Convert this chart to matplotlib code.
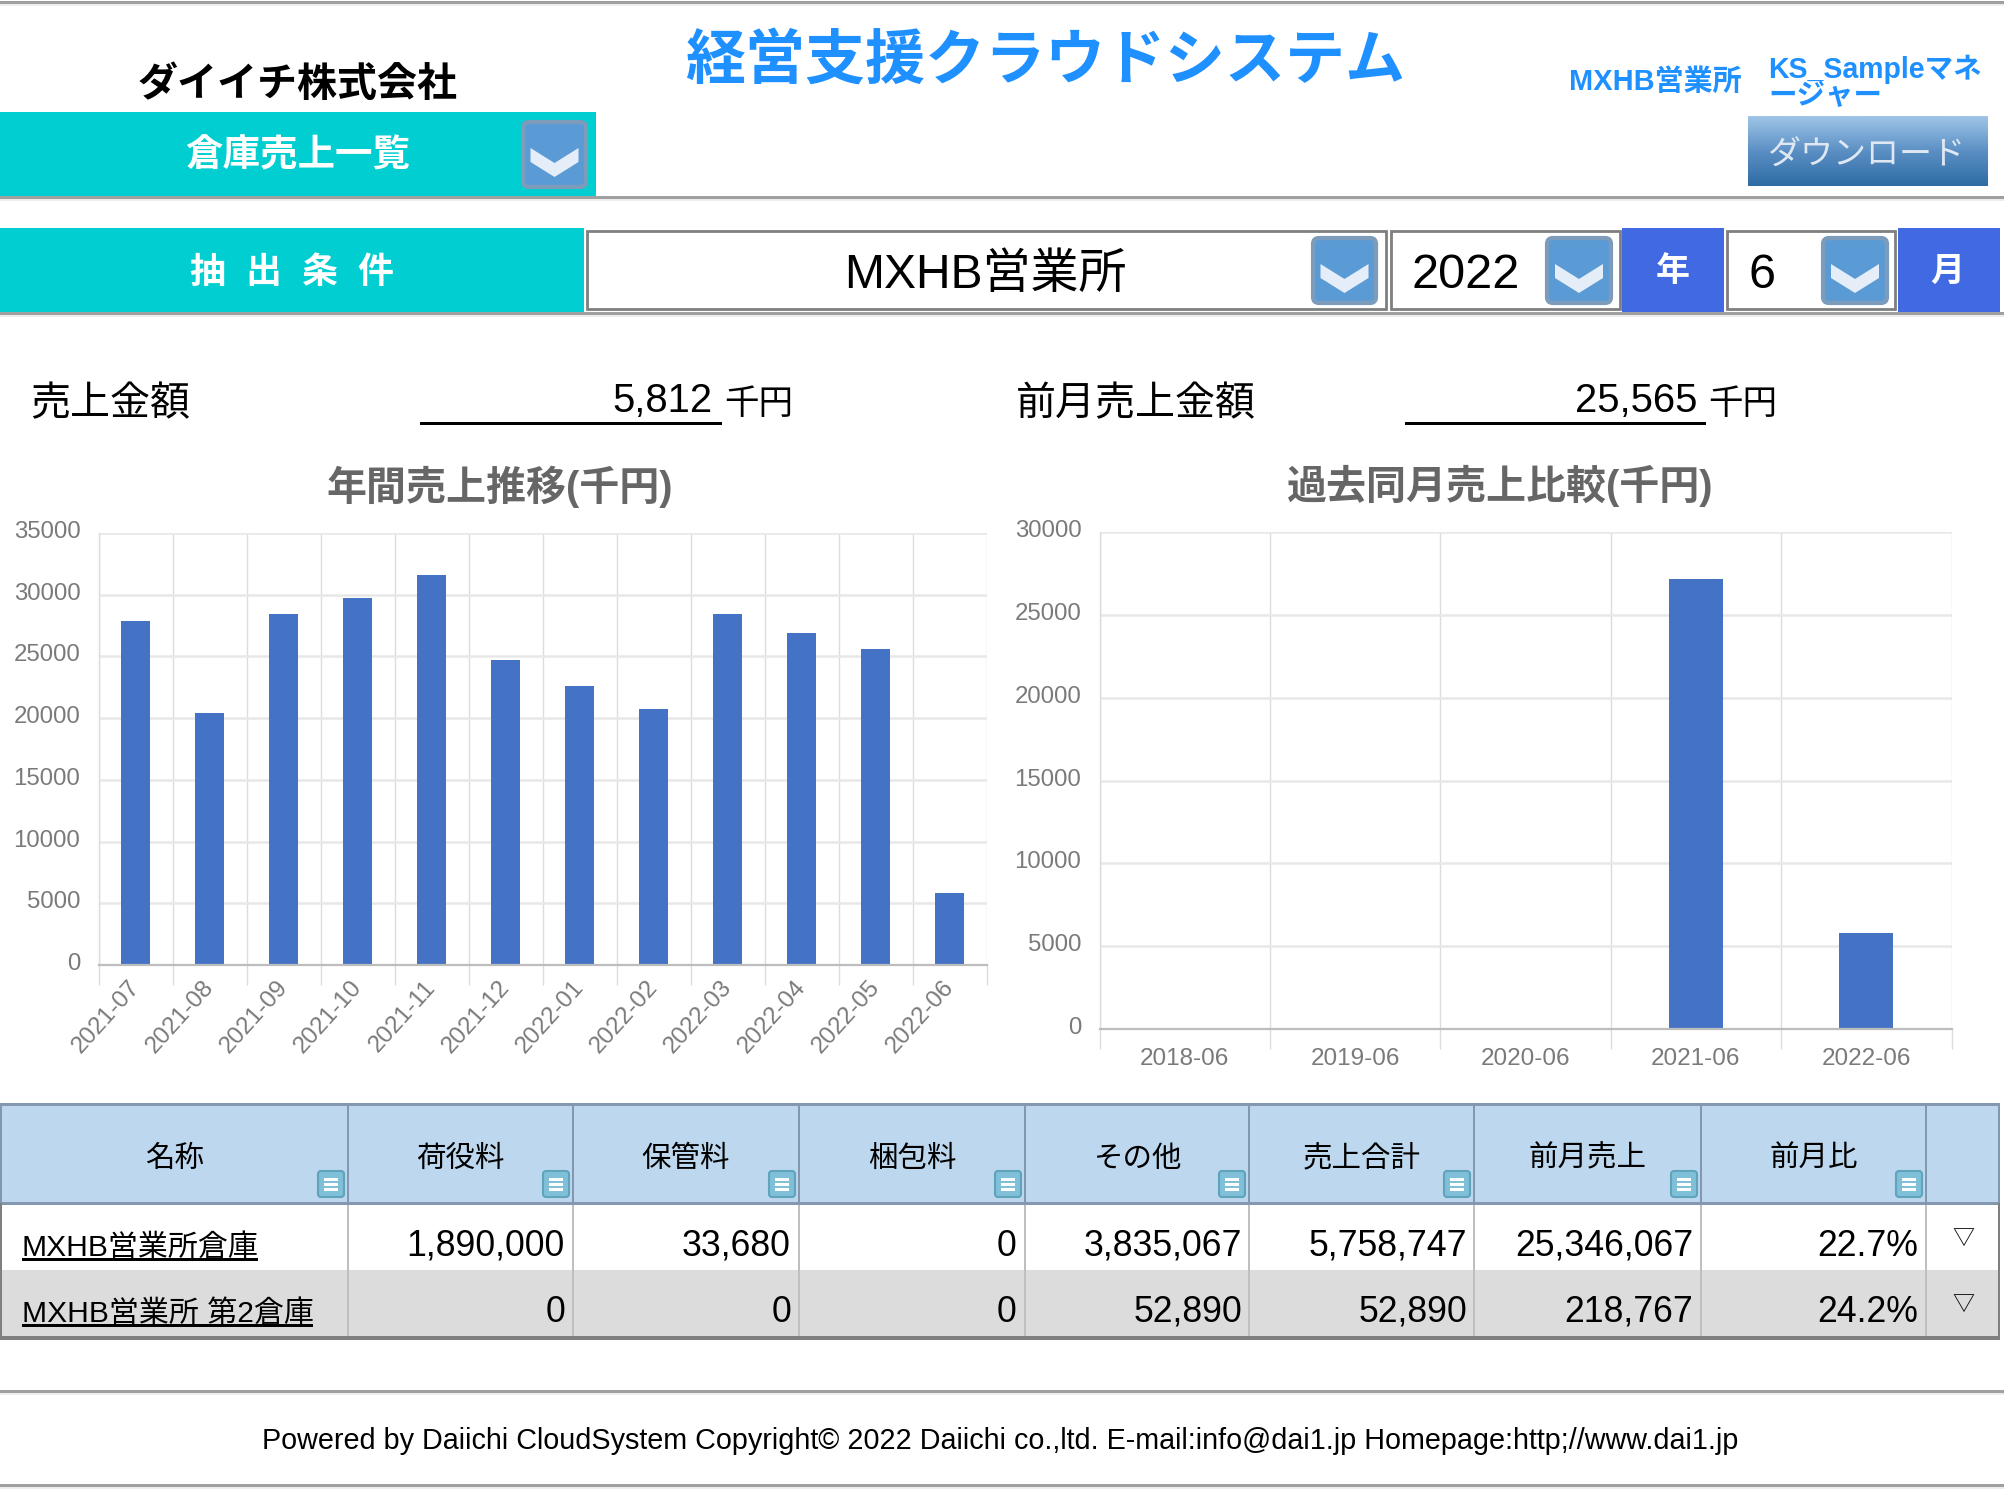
import numpy as np
import matplotlib
matplotlib.use('Agg')
import matplotlib.pyplot as plt
from matplotlib.patches import Rectangle, FancyBboxPatch, Polygon
from matplotlib.transforms import ScaledTranslation

plt.rcParams['font.family'] = ['Liberation Sans', 'Noto Sans CJK JP']

W, H = 2004, 1500

# data
months = ['2021-07', '2021-08', '2021-09', '2021-10', '2021-11', '2021-12',
          '2022-01', '2022-02', '2022-03', '2022-04', '2022-05', '2022-06']
monthly_sales = [27840, 20440, 28420, 29760, 31590, 24700, 22570, 20740, 28450, 26870, 25565, 5812]
years = ['2018-06', '2019-06', '2020-06', '2021-06', '2022-06']
same_month_sales = [0, 0, 0, 27150, 5812]

table_headers = ['名称', '荷役料', '保管料', '梱包料', 'その他', '売上合計', '前月売上', '前月比']
row_names = ['MXHB営業所倉庫', 'MXHB営業所 第2倉庫']
row_values = [['1,890,000', '33,680', '0', '3,835,067', '5,758,747', '25,346,067', '22.7%'],
              ['0', '0', '0', '52,890', '52,890', '218,767', '24.2%']]

footer = 'Powered by Daiichi CloudSystem Copyright© 2022 Daiichi co.,ltd. E-mail:info@dai1.jp Homepage:http;//www.dai1.jp'

TEAL = '#00ced1'
ROYAL = '#4169e1'
LINK = '#1e90ff'
BAR = '#4472c4'
TICK = '#7a7a7a'

fig = plt.figure(figsize=(W / 100, H / 100), dpi=100, facecolor='white')
bg = fig.add_axes([0, 0, 1, 1])
bg.set_xlim(0, W)
bg.set_ylim(H, 0)
bg.axis('off')


def box(x0, y0, x1, y1, **kw):
    kw.setdefault('linewidth', 0)
    bg.add_patch(Rectangle((x0, y0), x1 - x0, y1 - y0, **kw))


def label(x, y, s, size, ha='center', va='center', color='black', weight='normal', **kw):
    # size is given in pixels of the target, text sits a little low like in the browser
    bg.text(x, y + size * 0.11, s, fontsize=size * 0.72, ha=ha, va=va, color=color, fontweight=weight, **kw)


def rule(y):
    box(0, y - 1.5, W, y + 1.5, facecolor='#a0a0a0')
    box(0, y + 1.5, W, y + 3.5, facecolor='#ededed')


def dropdown(x0, y0, x1, y1):
    bg.add_patch(FancyBboxPatch((x0 + 2, y0 + 2), x1 - x0 - 4, y1 - y0 - 4, boxstyle='round,pad=0,rounding_size=6',
                                facecolor='#5b9bd5', edgecolor='#7d9bbb', linewidth=3))
    cx = (x0 + x1) / 2
    top = y0 + 28
    bg.add_patch(Polygon([(cx - 24, top), (cx, top + 15), (cx + 24, top), (cx + 24, top + 14),
                          (cx, top + 29), (cx - 24, top + 14)], closed=True,
                         facecolor='#e4edf8', edgecolor='none'))


def selector(x0, y0, x1, y1):
    box(x0, y0, x1, y1, facecolor='white', edgecolor='#7f7f7f', linewidth=2)


# page header
rule(2)
rule(197)
rule(313)
rule(1391)
rule(1485)

label(298, 80, 'ダイイチ株式会社', 40, weight='bold')
label(1045, 56, '経営支援クラウドシステム', 60, color=LINK, weight='bold')
label(1655, 79, 'MXHB営業所', 29, color=LINK, weight='bold')
label(1768, 66, 'KS_Sampleマネ', 28.5, ha='left', color=LINK, weight='bold')
label(1768, 93, 'ージャー', 28.5, ha='left', color=LINK, weight='bold')

box(0, 112, 596, 196, facecolor=TEAL)
label(298, 152, '倉庫売上一覧', 37.5, color='white', weight='bold')
dropdown(521, 120, 588, 189)

grad = np.linspace(0, 1, 64).reshape(-1, 1)
bg.imshow(grad, extent=(1748, 1988, 186, 116), aspect='auto', zorder=1,
          cmap=matplotlib.colors.LinearSegmentedColormap.from_list('btn', ['#9fc5e8', '#5b8fc4', '#2f6ca5']))
bg.set_xlim(0, W)
bg.set_ylim(H, 0)
label(1866, 153, 'ダウンロード', 33, color='#dfe8f2', zorder=2)

# filter row
box(0, 228, 584, 312, facecolor=TEAL)
label(292, 270, '抽  出  条  件', 36, color='white', weight='bold')

selector(587, 231, 1386, 309)
label(985, 270, 'MXHB営業所', 48)
dropdown(1311, 236, 1378, 305)
selector(1391, 231, 1620, 309)
label(1412, 270, '2022', 48.5, ha='left')
dropdown(1545, 236, 1613, 305)
box(1622, 228, 1724, 312, facecolor=ROYAL)
label(1673, 268, '年', 34, color='white', weight='bold')
selector(1727, 231, 1895, 309)
label(1749, 270, '6', 48.5, ha='left')
dropdown(1821, 236, 1889, 305)
box(1898, 228, 2000, 312, facecolor=ROYAL)
label(1947, 269, '月', 34, color='white', weight='bold')

# sales figures
label(30, 400, '売上金額', 40, ha='left')
label(713, 397, '5,812', 40, ha='right')
box(420, 422, 722, 425, facecolor='black')
label(724, 401, '千円', 34.5, ha='left')
label(1016, 400, '前月売上金額', 40, ha='left')
label(1697, 397, '25,565', 40, ha='right')
box(1405, 422, 1706, 425, facecolor='black')
label(1708, 401, '千円', 34.5, ha='left')

label(500, 482, '年間売上推移(千円)', 40, color='#666666', weight='bold')
label(1500, 482, '過去同月売上比較(千円)', 40, color='#666666', weight='bold')


def chart(x0, x1, ytop, ybot, labels, values, bar_width, ymax, tick_px):
    ax = fig.add_axes([x0 / W, 1 - ybot / H, (x1 - x0) / W, (ybot - ytop) / H])
    ax.patch.set_alpha(0)
    n = len(labels)
    ax.bar(np.arange(n) + 0.5, values, width=bar_width, color=BAR, zorder=3)
    ax.set_xlim(0, n)
    ax.set_ylim(0, ymax)
    ax.set_yticks(np.arange(0, ymax + 1, 5000))
    ax.set_xticks(np.arange(n + 1))
    ax.set_xticklabels([])
    ax.set_xticks(np.arange(n) + 0.5, minor=True)
    ax.tick_params(axis='y', length=0, pad=13, labelsize=17.3, labelcolor=TICK)
    ax.tick_params(axis='x', which='major', length=tick_px * 0.72, width=1, color='#dcdcdc')
    ax.tick_params(axis='x', which='minor', length=0)
    ax.grid(axis='y', color='#e8e8e8', linewidth=1.8, zorder=0)
    ax.grid(axis='x', which='major', color='#dcdcdc', linewidth=1, zorder=0)
    for side in ['top', 'right']:
        ax.spines[side].set_visible(False)
    ax.spines['left'].set_color('#dcdcdc')
    ax.spines['left'].set_linewidth(1)
    ax.spines['bottom'].set_color('#bdbdbd')
    ax.spines['bottom'].set_linewidth(1.6)
    ax.spines['bottom'].set_zorder(4)
    # labels sit a few pixels above the gridlines in the original
    for t in ax.get_yticklabels():
        t.set_transform(t.get_transform() + ScaledTranslation(0, 3.5 / 100, fig.dpi_scale_trans))
    return ax


ax1 = chart(98.5, 986.5, 533, 965, months, monthly_sales, 0.4, 35000, 20)
ax1.set_xticklabels(months, minor=True, rotation=48, ha='right', rotation_mode='anchor',
                    fontsize=17.5, color=TICK)
ax1.tick_params(axis='x', which='minor', pad=8)
for t in ax1.get_xticklabels(minor=True):
    t.set_transform(t.get_transform() + ScaledTranslation(-8 / 100, 0, fig.dpi_scale_trans))

ax2 = chart(1099.5, 1951.5, 532, 1029, years, same_month_sales, 0.315, 30000, 20)
ax2.set_xticklabels(years, minor=True, fontsize=17.5, color=TICK)
ax2.tick_params(axis='x', which='minor', pad=14)

# table
col_edges = [2, 348, 573, 799, 1025, 1249, 1474, 1701, 1926, 1999]
value_right = [565, 791, 1016, 1242, 1467, 1693, 1918]
head_top, head_bot, row1_bot, row2_bot = 1105, 1203, 1270, 1337

box(col_edges[0], head_top, col_edges[-1], head_bot, facecolor='#bdd7ee')
box(col_edges[0], row1_bot, col_edges[-1], row2_bot, facecolor='#dcdcdc')
for x in col_edges[1:-1]:
    box(x - 1, head_top, x + 1, head_bot, facecolor='#8497b0')
    box(x - 1, head_bot, x + 1, row2_bot + 1, facecolor='#bfbfbf')
box(0, head_top - 2, col_edges[-1] + 1, head_top + 1, facecolor='#8497b0')
box(0, head_bot - 1, col_edges[-1] + 1, head_bot + 2, facecolor='#8497b0')
box(0, row2_bot - 1, col_edges[-1] + 1, row2_bot + 3, facecolor='#7f7f7f')
box(0, head_top, 2, head_bot, facecolor='#8497b0')
box(0, head_bot, 2, row2_bot, facecolor='#7f7f7f')
box(col_edges[-1] - 1, head_top, col_edges[-1] + 1, head_bot, facecolor='#8497b0')
box(col_edges[-1] - 1, head_bot, col_edges[-1] + 1, row2_bot, facecolor='#7f7f7f')

for i, name in enumerate(table_headers):
    left, right = col_edges[i], col_edges[i + 1]
    label((left + right) / 2, 1155.5, name, 29.5)
    # sort button
    bg.add_patch(FancyBboxPatch((right - 30, 1171), 26, 26, boxstyle='round,pad=0,rounding_size=3',
                                facecolor='#7fc0d8', edgecolor='#5fa3bd', linewidth=1.5))
    for dy in (1179, 1184, 1189):
        box(right - 24, dy - 1.5, right - 10, dy + 1.5, facecolor='white')

row_y = [1242.5, 1308.5]
for r, name in enumerate(row_names):
    label(22, row_y[r] + 2, name, 30, ha='left')
    box(22, 1258 + 66 * r, 22 + 236 + 55 * r, 1260.5 + 66 * r, facecolor='black')
    for c, val in enumerate(row_values[r]):
        label(value_right[c], row_y[r], val, 35.6, ha='right')
    label(1963, row_y[r] - 5, '▽', 22)

label(1000, 1437.5, footer, 28.8)

fig.savefig('out.png', dpi=100)
